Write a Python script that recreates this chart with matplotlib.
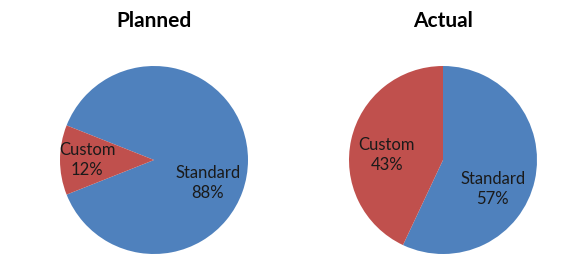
import numpy as np
import matplotlib
matplotlib.use("Agg")
import matplotlib.pyplot as plt

plt.rcParams['font.family'] = ['Lato', 'DejaVu Sans']

# data
categories = ["Standard", "Custom"]
planned = [88, 12]
actual = [57, 43]
titles = ["Planned", "Actual"]

colors = ["#4F81BD", "#C0504D"]

W, H = 575, 277
fig = plt.figure(figsize=(W / 100, H / 100), dpi=100)

# pie centres (px from left, px from top) and radius in px
centres = [(154, 160), (443, 160)]
radius_px = 94
start_angles = [158.4, 90]
# label placement inside the wedges: (fraction of radius, angle in degrees)
label_pos = [
    [(0.62, -23), (0.71, 180)],
    [(0.61, -30), (0.60, 175)],
]

for k, values in enumerate([planned, actual]):
    cx, cy = centres[k]
    ax = fig.add_axes([(cx - radius_px) / W, (H - cy - radius_px) / H,
                       2 * radius_px / W, 2 * radius_px / H])
    ax.pie(values, colors=colors, startangle=start_angles[k], counterclock=False,
           radius=1, wedgeprops=dict(linewidth=0))
    ax.set_xlim(-1, 1)
    ax.set_ylim(-1, 1)
    ax.set_aspect("equal")
    ax.axis("off")
    for (r, ang), name, v in zip(label_pos[k], categories, values):
        a = np.deg2rad(ang)
        ax.text(r * np.cos(a), r * np.sin(a), f"{name}\n{v}%", ha="center", va="center",
                fontsize=12, color="#1a1a1a", linespacing=1.3)
    fig.text(cx / W, 1 - 21 / H, titles[k], ha="center", va="center",
             fontsize=15, fontweight="bold", color="black")

fig.savefig("out.png", dpi=100)
